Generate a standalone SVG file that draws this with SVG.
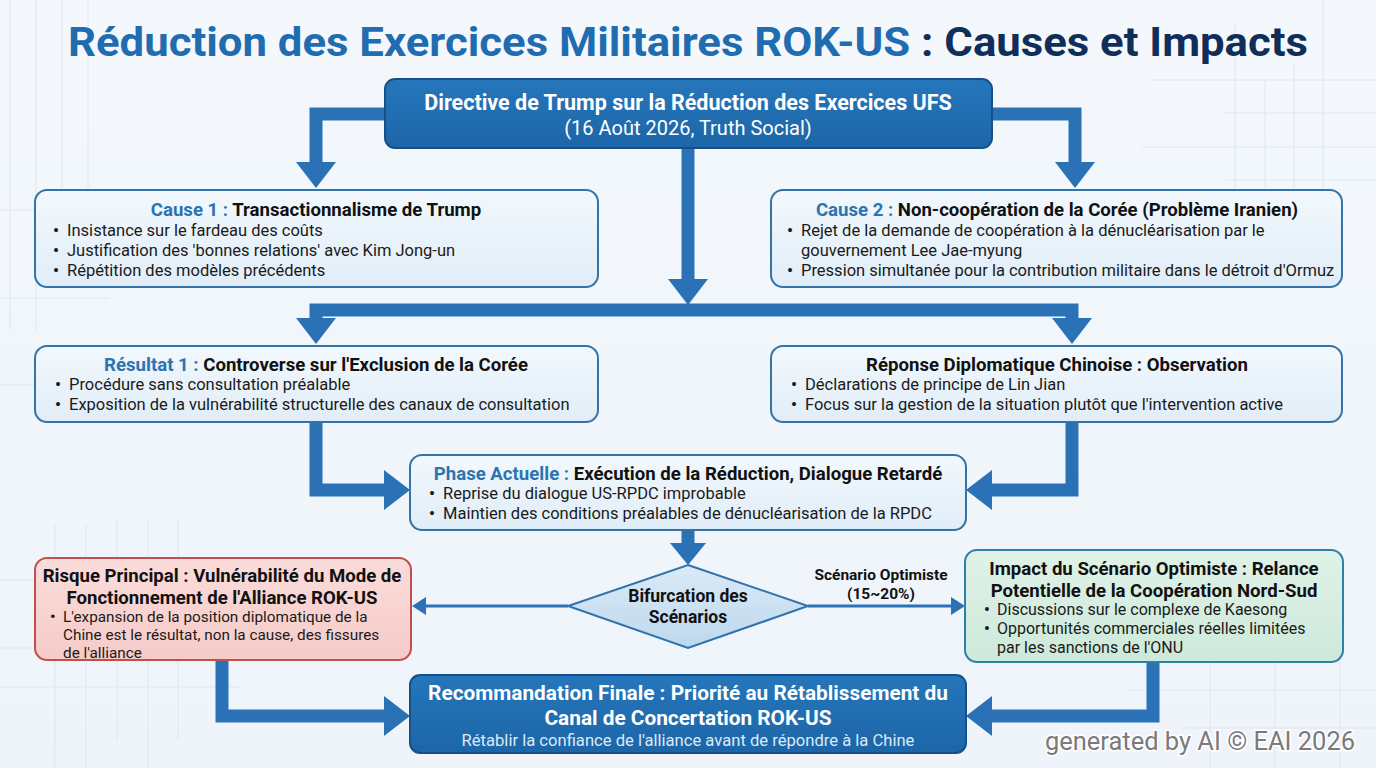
<svg xmlns="http://www.w3.org/2000/svg" width="1376" height="768" viewBox="0 0 1376 768">
<defs>
<linearGradient id="bg" x1="0" y1="0" x2="0" y2="1">
<stop offset="0" stop-color="#f4f8fc"/><stop offset="1" stop-color="#eef4fa"/>
</linearGradient>
<linearGradient id="lb" x1="0" y1="0" x2="0" y2="1">
<stop offset="0" stop-color="#f2f8fd"/><stop offset="1" stop-color="#e0edf8"/>
</linearGradient>
<linearGradient id="db" x1="0" y1="0" x2="0" y2="1">
<stop offset="0" stop-color="#2676bb"/><stop offset="1" stop-color="#1c66a8"/>
</linearGradient>
<linearGradient id="rd" x1="0" y1="0" x2="0" y2="1">
<stop offset="0" stop-color="#fadcda"/><stop offset="1" stop-color="#f6cbc8"/>
</linearGradient>
<linearGradient id="gr" x1="0" y1="0" x2="0" y2="1">
<stop offset="0" stop-color="#e0f2e8"/><stop offset="1" stop-color="#cde9da"/>
</linearGradient>
<linearGradient id="dm" x1="0" y1="0" x2="0" y2="1">
<stop offset="0" stop-color="#dbeaf6"/><stop offset="1" stop-color="#bcd8ee"/>
</linearGradient>
<marker id="big" markerUnits="userSpaceOnUse" markerWidth="26" markerHeight="40" refX="0" refY="20" orient="auto" viewBox="0 0 26 40">
<path d="M0,0 L26,20 L0,40 z" fill="#2a72b5"/>
</marker>
<marker id="mid" markerUnits="userSpaceOnUse" markerWidth="22" markerHeight="36" refX="0" refY="18" orient="auto" viewBox="0 0 22 36">
<path d="M0,0 L22,18 L0,36 z" fill="#2a72b5"/>
</marker>
<marker id="thin" markerUnits="userSpaceOnUse" markerWidth="14" markerHeight="18" refX="0" refY="9" orient="auto" viewBox="0 0 14 18">
<path d="M0,0 L14,9 L0,18 z" fill="#2a72b5"/>
</marker>
<style>
.grid line{stroke:#dfe6ee;stroke-width:1}
.box{fill:url(#lb);stroke:#3572a6;stroke-width:2}
.dark{fill:url(#db);stroke:#174f86;stroke-width:2}
.thick{fill:none;stroke:#2a72b5;stroke-width:13;stroke-linejoin:miter}
.thn{fill:none;stroke:#2a72b5;stroke-width:3}
text{font-family:Roboto,"Liberation Sans",Arial,sans-serif}
.t{font-size:18.6px;font-weight:bold;fill:#111;text-anchor:middle}
.k{fill:#2b74b0}
.b{font-size:16.5px;fill:#1a1a1a}
.s{font-size:15.3px;fill:#1a1a1a}
.g{font-size:16px;fill:#1a1a1a}
.d{font-weight:bold}
.w{fill:#fff;font-weight:bold;font-size:20.8px;text-anchor:middle}
</style>
</defs>
<rect width="1376" height="768" fill="url(#bg)"/>
<g class="grid">
<line x1="10" y1="0" x2="10" y2="330"/><line x1="36" y1="0" x2="36" y2="330"/><line x1="62" y1="0" x2="62" y2="250"/><line x1="88" y1="0" x2="88" y2="220"/>
<line x1="0" y1="210" x2="200" y2="210"/><line x1="0" y1="298" x2="110" y2="298"/><line x1="0" y1="385" x2="200" y2="385"/>
<line x1="1235" y1="25" x2="1235" y2="200"/><line x1="1265" y1="80" x2="1265" y2="200"/><line x1="1294" y1="65" x2="1294" y2="200"/><line x1="1323" y1="0" x2="1323" y2="200"/>
<line x1="1150" y1="80" x2="1376" y2="80"/><line x1="1225" y1="113" x2="1376" y2="113"/><line x1="1142" y1="147" x2="1376" y2="147"/><line x1="1225" y1="180" x2="1376" y2="180"/>
<line x1="55" y1="525" x2="55" y2="768"/><line x1="86" y1="525" x2="86" y2="768"/><line x1="117" y1="520" x2="117" y2="740"/><line x1="148" y1="520" x2="148" y2="768"/><line x1="178" y1="520" x2="178" y2="740"/>
<line x1="0" y1="580" x2="240" y2="580"/><line x1="0" y1="648" x2="240" y2="648"/><line x1="0" y1="687" x2="240" y2="687"/>
<line x1="1210" y1="640" x2="1210" y2="768"/><line x1="1275" y1="640" x2="1275" y2="768"/><line x1="1340" y1="630" x2="1340" y2="768"/>
<line x1="1130" y1="690" x2="1376" y2="690"/><line x1="1180" y1="728" x2="1376" y2="728"/>
</g>
<text x="688" y="56" text-anchor="middle" font-size="40" font-weight="bold" textLength="1240" lengthAdjust="spacingAndGlyphs"><tspan fill="#1f6db0">Réduction des Exercices Militaires ROK-US</tspan><tspan fill="#0f2f5a"> : Causes et Impacts</tspan></text>
<g id="connectors">
<path class="thick" d="M386,114 H316 V162" marker-end="url(#big)"/>
<path class="thick" d="M991,114 H1075 V162" marker-end="url(#big)"/>
<path class="thick" d="M688,149 V279" marker-end="url(#big)"/>
<path class="thick" d="M688,310 H316 V318" marker-end="url(#big)"/>
<path class="thick" d="M688,310 H1072 V318" marker-end="url(#big)"/>
<path class="thick" d="M316,423 V490 H384" marker-end="url(#big)"/>
<path class="thick" d="M1072,423 V490 H992" marker-end="url(#big)"/>
<path class="thick" d="M688,531 V543" marker-end="url(#mid)"/>
<path class="thick" d="M222,661 V716 H384" marker-end="url(#big)"/>
<path class="thick" d="M1153,663 V716 H992" marker-end="url(#big)"/>
<path class="thn" d="M568,606 H426" marker-end="url(#thin)"/>
<path class="thn" d="M808,606 H951" marker-end="url(#thin)"/>
<text x="881" y="580" text-anchor="middle" font-size="15.5" font-weight="bold" fill="#111">Scénario Optimiste</text>
<text x="881" y="599" text-anchor="middle" font-size="15.5" font-weight="bold" fill="#111">(15~20%)</text>
</g>
<g id="directive">
<rect class="dark" x="385" y="79" width="607" height="69" rx="10"/>
<text class="w" x="688" y="110" style="font-size:21.5px">Directive de Trump sur la Réduction des Exercices UFS</text>
<text x="688" y="135" text-anchor="middle" font-size="20" fill="#fff">(16 Août 2026, Truth Social)</text>
</g>
<g id="cause1">
<rect class="box" x="35" y="190" width="563" height="97" rx="12"/>
<text class="t" x="316" y="216"><tspan class="k">Cause 1 :</tspan> Transactionnalisme de Trump</text>
<text class="b" y="236"><tspan class="d" x="53">•</tspan><tspan x="67">Insistance sur le fardeau des coûts</tspan></text>
<text class="b" y="256"><tspan class="d" x="53">•</tspan><tspan x="67">Justification des 'bonnes relations' avec Kim Jong-un</tspan></text>
<text class="b" y="276"><tspan class="d" x="53">•</tspan><tspan x="67">Répétition des modèles précédents</tspan></text>
</g>
<g id="cause2">
<rect class="box" x="771" y="190" width="571" height="97" rx="12"/>
<text class="t" x="1057" y="216"><tspan class="k">Cause 2 :</tspan> Non-coopération de la Corée (Problème Iranien)</text>
<text class="b" y="236"><tspan class="d" x="787">•</tspan><tspan x="801">Rejet de la demande de coopération à la dénucléarisation par le</tspan></text>
<text class="b" x="801" y="256">gouvernement Lee Jae-myung</text>
<text class="b" y="276"><tspan class="d" x="787">•</tspan><tspan x="801">Pression simultanée pour la contribution militaire dans le détroit d'Ormuz</tspan></text>
</g>
<g id="resultat1">
<rect class="box" x="35" y="346" width="563" height="76" rx="12"/>
<text class="t" x="316" y="371"><tspan class="k">Résultat 1 :</tspan> Controverse sur l'Exclusion de la Corée</text>
<text class="b" y="390"><tspan class="d" x="55">•</tspan><tspan x="69">Procédure sans consultation préalable</tspan></text>
<text class="b" y="410"><tspan class="d" x="55">•</tspan><tspan x="69">Exposition de la vulnérabilité structurelle des canaux de consultation</tspan></text>
</g>
<g id="chine">
<rect class="box" x="771" y="346" width="571" height="76" rx="12"/>
<text class="t" x="1057" y="371">Réponse Diplomatique Chinoise : Observation</text>
<text class="b" y="390"><tspan class="d" x="791">•</tspan><tspan x="805">Déclarations de principe de Lin Jian</tspan></text>
<text class="b" y="410"><tspan class="d" x="791">•</tspan><tspan x="805">Focus sur la gestion de la situation plutôt que l'intervention active</tspan></text>
</g>
<g id="phase">
<rect class="box" x="410" y="455" width="556" height="75" rx="12"/>
<text class="t" x="688" y="480"><tspan class="k">Phase Actuelle :</tspan> Exécution de la Réduction, Dialogue Retardé</text>
<text class="b" y="499"><tspan class="d" x="429">•</tspan><tspan x="443">Reprise du dialogue US-RPDC improbable</tspan></text>
<text class="b" y="519"><tspan class="d" x="429">•</tspan><tspan x="443">Maintien des conditions préalables de dénucléarisation de la RPDC</tspan></text>
</g>
<g id="bifurcation">
<polygon points="688,565 808,606 688,648 568,606" fill="url(#dm)" stroke="#2f72ad" stroke-width="2"/>
<text x="688" y="602" text-anchor="middle" font-size="17.5" font-weight="bold" fill="#111">Bifurcation des</text>
<text x="688" y="623" text-anchor="middle" font-size="17.5" font-weight="bold" fill="#111">Scénarios</text>
</g>
<g id="risque">
<rect x="35" y="558" width="376" height="102" rx="12" fill="url(#rd)" stroke="#c0504d" stroke-width="2"/>
<text class="t" x="222" y="582">Risque Principal : Vulnérabilité du Mode de</text>
<text class="t" x="222" y="604">Fonctionnement de l'Alliance ROK-US</text>
<text class="s" y="622"><tspan class="d" x="50">•</tspan><tspan x="63">L'expansion de la position diplomatique de la</tspan></text>
<text class="s" x="63" y="640">Chine est le résultat, non la cause, des fissures</text>
<text class="s" x="63" y="658">de l'alliance</text>
</g>
<g id="optimiste">
<rect x="965" y="550" width="378" height="112" rx="12" fill="url(#gr)" stroke="#2f7fa8" stroke-width="2"/>
<text class="t" x="1154" y="575">Impact du Scénario Optimiste : Relance</text>
<text class="t" x="1154" y="597">Potentielle de la Coopération Nord-Sud</text>
<text class="g" y="615"><tspan class="d" x="984">•</tspan><tspan x="997">Discussions sur le complexe de Kaesong</tspan></text>
<text class="g" y="634"><tspan class="d" x="984">•</tspan><tspan x="997">Opportunités commerciales réelles limitées</tspan></text>
<text class="g" x="997" y="653">par les sanctions de l'ONU</text>
</g>
<g id="finale">
<rect class="dark" x="410" y="675" width="556" height="78" rx="10"/>
<text class="w" x="688" y="700">Recommandation Finale : Priorité au Rétablissement du</text>
<text class="w" x="688" y="725">Canal de Concertation ROK-US</text>
<text x="688" y="746" text-anchor="middle" font-size="16.6" fill="#dce9f6">Rétablir la confiance de l'alliance avant de répondre à la Chine</text>
</g>
<text x="1045" y="750" font-size="25" fill="#7a7a7a" stroke="#ffffff" stroke-width="3" paint-order="stroke" font-family="'Liberation Sans',Arial,sans-serif" textLength="310" lengthAdjust="spacingAndGlyphs">generated by AI © EAI 2026</text>
</svg>
